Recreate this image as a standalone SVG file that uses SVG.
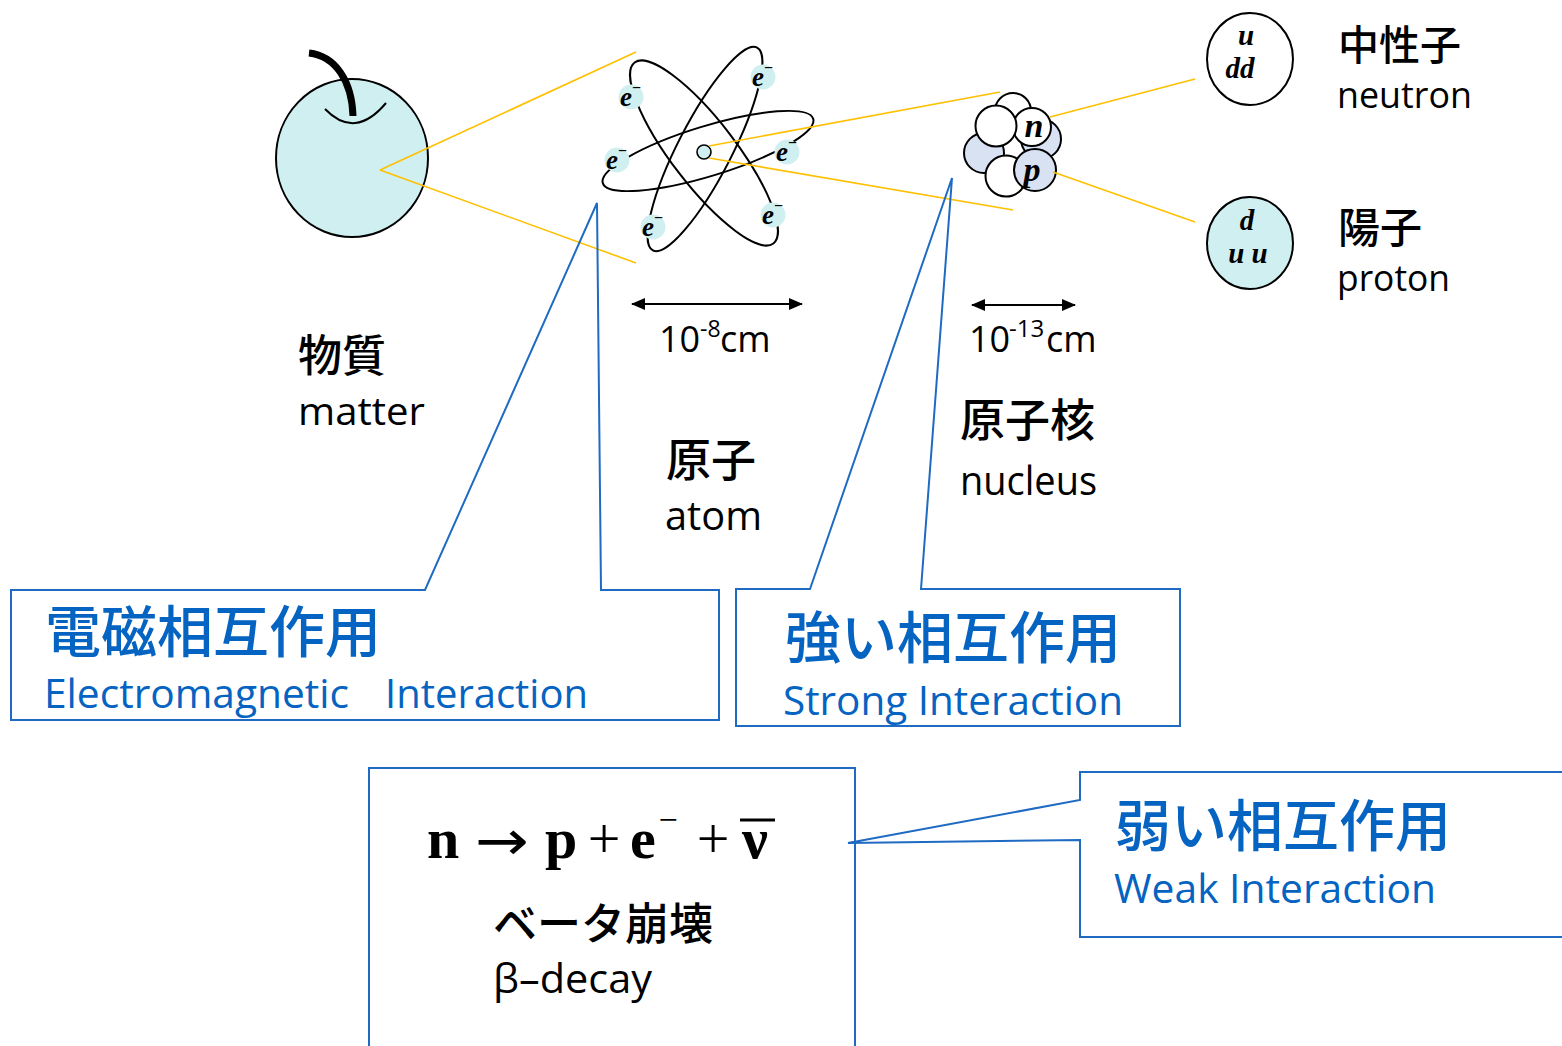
<svg xmlns="http://www.w3.org/2000/svg" width="1562" height="1046" viewBox="0 0 1562 1046">
<style>
.bg{fill:#ffffff}
.cy{fill:#d0eff0}
.blu{fill:#d9e2f3}
.ol{stroke:#000;stroke-width:2}
.orb{fill:none;stroke:#000;stroke-width:2}
.yl{stroke:#ffc000;stroke-width:1.6;fill:none}
.call{fill:none;stroke:#1f6bc4;stroke-width:2;stroke-linejoin:miter}
.jp{font-family:"Noto Sans CJK JP","Noto Sans CJK SC",sans-serif;font-weight:500;fill:#000}
.lat{font-family:"Open Sans","Noto Sans",sans-serif;fill:#000}
.bjp{font-family:"Noto Sans CJK JP","Noto Sans CJK SC",sans-serif;font-weight:500;fill:#0563c1;font-size:56px}
.blat{font-family:"Open Sans","Noto Sans",sans-serif;fill:#0563c1;font-size:40px}
.math{font-family:"Liberation Serif","DejaVu Serif",serif;font-weight:700;font-style:italic;fill:#000}
.eq{font-family:"Liberation Serif","DejaVu Serif",serif;fill:#000}
</style>
<defs>
<marker id="ah" viewBox="0 0 14 12" refX="13" refY="6" markerWidth="14" markerHeight="12" markerUnits="userSpaceOnUse" orient="auto-start-reverse">
<path d="M0,0 L14,6 L0,12 Z" fill="#000"/>
</marker>
<g id="el">
<circle r="12.5" class="cy"/>
<text x="-11" y="9" class="math" font-size="27">e<tspan dx="0" dy="-13" font-size="16" font-style="normal">−</tspan></text>
</g>
</defs>
<rect class="bg" x="0" y="0" width="1562" height="1046"/>

<g id="matter">
<ellipse class="cy ol" cx="352" cy="158" rx="76" ry="79"/>
<path d="M309,53 C336,56 352,82 353,116" fill="none" stroke="#000" stroke-width="7"/>
<path d="M325,109 Q355,140 386,103" fill="none" stroke="#000" stroke-width="2"/>
<text class="jp" x="298" y="372" font-size="44">物質</text>
<text class="lat" x="298" y="425" font-size="38" textLength="127" lengthAdjust="spacingAndGlyphs">matter</text>
</g>

<g id="atom">
<ellipse class="orb" cx="708" cy="151" rx="110" ry="25" transform="rotate(-17 708 151)"/>
<ellipse class="orb" cx="704" cy="153" rx="114" ry="32" transform="rotate(52.5 704 153)"/>
<ellipse class="orb" cx="705" cy="149" rx="114" ry="27" transform="rotate(-62.8 705 149)"/>
<circle cx="704" cy="152" r="7" class="cy" stroke="#000" stroke-width="1.6"/>
<use href="#el" x="631" y="97"/>
<use href="#el" x="763" y="77"/>
<use href="#el" x="617" y="160"/>
<use href="#el" x="787" y="152"/>
<use href="#el" x="653" y="227"/>
<use href="#el" x="773" y="215"/>
<line x1="632" y1="304" x2="802" y2="304" stroke="#000" stroke-width="2" marker-start="url(#ah)" marker-end="url(#ah)"/>
<text class="lat" font-size="36"><tspan x="659" y="352">10</tspan><tspan x="700" y="337" font-size="23">-8</tspan><tspan x="720" y="352">cm</tspan></text>
<text class="jp" x="666" y="477" font-size="45">原子</text>
<text class="lat" x="665" y="530" font-size="40" textLength="97" lengthAdjust="spacingAndGlyphs">atom</text>
</g>

<g id="nucleus">
<circle class="ol" fill="#fff" cx="1013" cy="111" r="18"/>
<circle class="blu ol" cx="984" cy="153" r="20"/>
<circle class="blu ol" cx="1041" cy="139" r="20"/>
<circle class="ol" fill="#fff" cx="1032" cy="127" r="19"/>
<circle class="ol" fill="#fff" cx="996" cy="126" r="20.5"/>
<circle class="ol" fill="#fff" cx="1006" cy="176" r="20.5"/>
<circle class="blu ol" cx="1035" cy="170" r="21"/>
<text class="math" x="1034" y="137" font-size="34" text-anchor="middle">n</text>
<text class="math" x="1032" y="181" font-size="34" text-anchor="middle">p</text>
<line x1="972" y1="305" x2="1075" y2="305" stroke="#000" stroke-width="2" marker-start="url(#ah)" marker-end="url(#ah)"/>
<text class="lat" font-size="36"><tspan x="969" y="352">10</tspan><tspan x="1009" y="337" font-size="24">-13</tspan><tspan x="1046" y="352">cm</tspan></text>
<text class="jp" x="960" y="437" font-size="45">原子核</text>
<text class="lat" x="960" y="495" font-size="40" textLength="137" lengthAdjust="spacingAndGlyphs">nucleus</text>
</g>

<g id="neutron">
<ellipse class="ol" fill="#fff" cx="1250" cy="59" rx="43" ry="46"/>
<text class="math" font-size="29" text-anchor="middle"><tspan x="1246" y="45">u</tspan><tspan x="1240" y="78">dd</tspan></text>
<text class="jp" x="1338" y="60" font-size="41">中性子</text>
<text class="lat" x="1337" y="108" font-size="36" textLength="135" lengthAdjust="spacingAndGlyphs">neutron</text>
</g>

<g id="proton">
<ellipse class="cy ol" cx="1250" cy="243" rx="43" ry="46"/>
<text class="math" font-size="29" text-anchor="middle"><tspan x="1247" y="230">d</tspan><tspan x="1248" y="263">u u</tspan></text>
<text class="jp" x="1338" y="243" font-size="42">陽子</text>
<text class="lat" x="1337" y="291" font-size="36" textLength="113" lengthAdjust="spacingAndGlyphs">proton</text>
</g>

<g id="connectors">
<line class="yl" x1="380" y1="170" x2="636" y2="52"/>
<line class="yl" x1="380" y1="170" x2="636" y2="263"/>
<line class="yl" x1="709" y1="146" x2="1000" y2="92"/>
<line class="yl" x1="709" y1="158" x2="1013" y2="210"/>
<line class="yl" x1="1050" y1="117" x2="1195" y2="79"/>
<line class="yl" x1="1053" y1="172" x2="1195" y2="222"/>
</g>

<g id="em-interaction">
<path class="call" d="M11,590 L425,590 L597,203 L601,590 L719,590 L719,720 L11,720 Z"/>
<text class="bjp" x="45" y="652">電磁相互作用</text>
<text class="blat" y="708"><tspan x="44" textLength="305" lengthAdjust="spacingAndGlyphs">Electromagnetic</tspan> <tspan x="385" textLength="203" lengthAdjust="spacingAndGlyphs">Interaction</tspan></text>
</g>

<g id="strong-interaction">
<path class="call" d="M736,589 L810,589 L952,178 L921,589 L1180,589 L1180,726 L736,726 Z"/>
<text class="bjp" x="785" y="658">強い相互作用</text>
<text class="blat" x="783" y="715" textLength="340" lengthAdjust="spacingAndGlyphs">Strong Interaction</text>
</g>

<g id="beta-decay">
<rect class="call" x="369" y="768" width="486" height="300"/>
<text class="eq" font-size="58"><tspan x="427" y="858" font-weight="700">n</tspan><tspan x="475" y="860" font-family="DejaVu Sans" font-size="56" textLength="54" lengthAdjust="spacingAndGlyphs">→</tspan><tspan x="545" y="858" font-weight="700">p</tspan><tspan x="604" y="858" text-anchor="middle">+</tspan><tspan x="630" y="858" font-weight="700">e</tspan><tspan x="668" y="831" font-size="34" text-anchor="middle">−</tspan><tspan x="713" y="858" text-anchor="middle">+</tspan><tspan x="742" y="858" font-weight="700">ν</tspan></text>
<line x1="740" y1="820" x2="775" y2="820" stroke="#000" stroke-width="3"/>
<text class="jp" x="493" y="940" font-size="44">ベータ崩壊</text>
<text class="lat" x="493" y="993" font-size="40" textLength="159" lengthAdjust="spacingAndGlyphs">β–decay</text>
</g>

<g id="weak-interaction">
<path class="call" d="M1080,772 L1564,772 L1564,937 L1080,937 L1080,840 L848,843 L1080,800 Z"/>
<text class="bjp" x="1115" y="846">弱い相互作用</text>
<text class="blat" x="1114" y="903" textLength="322" lengthAdjust="spacingAndGlyphs">Weak Interaction</text>
</g>
</svg>
